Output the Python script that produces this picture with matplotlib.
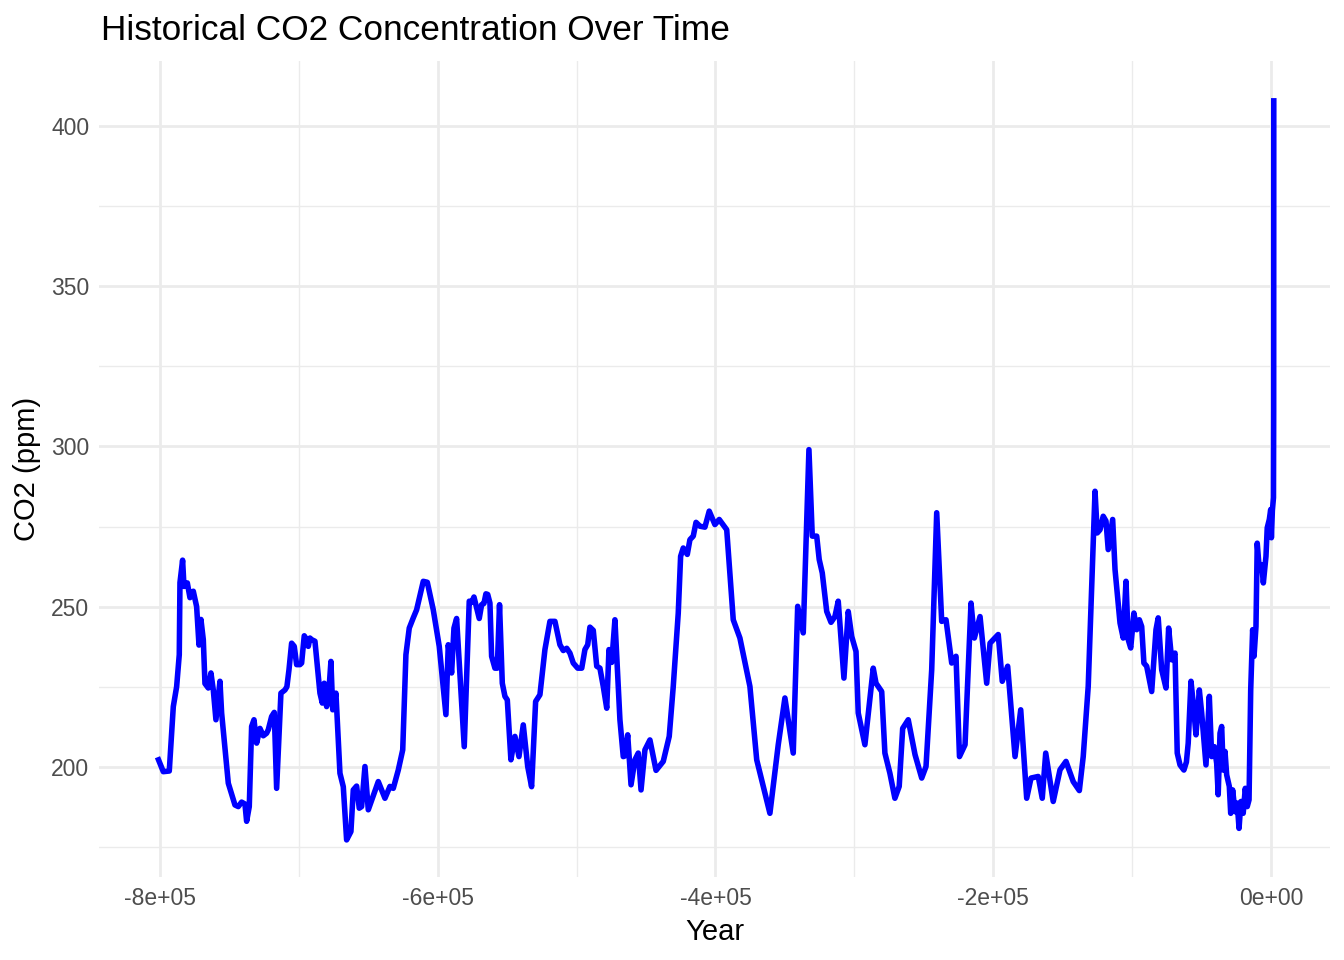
import matplotlib
matplotlib.use("Agg")
import matplotlib.pyplot as plt
from matplotlib.ticker import FixedLocator

plt.rcParams['font.family'] = ['Liberation Sans', 'DejaVu Sans']

# ---- data ----
years = [
    -801800, -797600, -793300, -790400, -788000, -786100, -785600, -783700, -782700, -780300,
    -778400, -776000, -773600, -771900, -770500, -768800, -767600, -765200, -763300, -761600,
    -759700, -756800, -755600, -750800, -746000, -743600, -741200, -738800, -737600, -735700,
    -734000, -732300, -730400, -728000, -725600, -723200, -722000, -719600, -717700, -716000,
    -712900, -710000, -708600, -707100, -705200, -703300, -701600, -699200, -698000, -696100,
    -694400, -693200, -692000, -690800, -688400, -684800, -683100, -681700, -680000, -678800,
    -676900, -675600, -673300, -670400, -668000, -665600, -662500, -660800, -658400, -656500,
    -654800, -652400, -650000, -642800, -638000, -634400, -632000, -628400, -625200, -622900,
    -620500, -617600, -615200, -610400, -607500, -603200, -598900, -594100, -592400, -590000,
    -588300, -586400, -580900, -577300, -575600, -573900, -570100, -568400, -566700, -565300,
    -564000, -562400, -561200, -558800, -557100, -555500, -553500, -551600, -549900, -547300,
    -544400, -541500, -538400, -535200, -532400, -529500, -526400, -522800, -519200, -515600,
    -512000, -509600, -507100, -504800, -502400, -499200, -496300, -494000, -492000, -490400,
    -488000, -485500, -483200, -480800, -478300, -476700, -474700, -472400, -468800, -466400,
    -465200, -463200, -460800, -458000, -455600, -453600, -450800, -447200, -442800, -437600,
    -433300, -430400, -426800, -425100, -423200, -420300, -418400, -416000, -414000, -411200,
    -407600, -404500, -400400, -397300, -391900, -387200, -382400, -375200, -370300, -360800,
    -354800, -350000, -344000, -340800, -336800, -332700, -330300, -327100, -325300, -323100,
    -319900, -316800, -314000, -311600, -307500, -304400, -301900, -298800, -297200, -292400,
    -286400, -284400, -280300, -278000, -274400, -270800, -267700, -265200, -261200, -256300,
    -251500, -248400, -244300, -240700, -237100, -234000, -229900, -226800, -224300, -220300,
    -216000, -213600, -209500, -204700, -202300, -196400, -193500, -189600, -184300, -180200,
    -175900, -172800, -167600, -164700, -162200, -156800, -151900, -147600, -142400, -138000,
    -135200, -131600, -126700, -125100, -123100, -120800, -118800, -117200, -114000, -112300,
    -108700, -106400, -104400, -102800, -101000, -98700, -96700, -94800, -93100, -91500,
    -89500, -85900, -82800, -81200, -78700, -75600, -73700, -71500, -69100, -67500,
    -65500, -62700, -60900, -59600, -57600, -56000, -54000, -51600, -49900, -46800,
    -44400, -42700, -40800, -39100, -38000, -36700, -35500, -34400, -33100, -31900,
    -30000, -29000, -27600, -25900, -24300, -23000, -21600, -20000, -18500, -17100,
    -15800, -14600, -13200, -12200, -10800, -9900, -8400, -6700, -5500, -3600,
    -2700, -1200, -200, 300, 1000, 1800, 1900, 1950, 1980, 2000, 2018,
]

co2_ppm = [
    203.0, 198.5, 198.7, 218.8, 225.0, 235.0, 257.5, 264.5, 256.3, 257.4,
    252.8, 254.8, 250.0, 238.0, 246.0, 239.7, 226.0, 224.6, 229.3, 224.0,
    214.7, 226.7, 216.8, 194.9, 188.1, 187.6, 189.0, 188.4, 183.0, 187.6,
    212.6, 214.7, 207.4, 212.0, 209.7, 210.5, 211.6, 215.7, 217.0, 193.3,
    223.0, 224.0, 225.0, 230.3, 238.6, 237.6, 231.9, 231.9, 232.4, 240.9,
    239.7, 237.6, 240.2, 239.7, 239.2, 223.0, 219.9, 226.1, 218.8, 220.9,
    232.9, 217.8, 223.0, 198.0, 193.8, 177.2, 179.8, 192.8, 194.0, 187.1,
    187.6, 200.1, 186.6, 195.4, 190.2, 193.9, 193.3, 199.0, 205.3, 235.0,
    243.3, 246.5, 249.0, 257.9, 257.6, 249.0, 237.6, 216.3, 238.1, 229.3,
    243.3, 246.3, 206.3, 251.7, 251.3, 253.0, 246.3, 250.6, 251.0, 254.0,
    253.8, 251.1, 234.5, 230.8, 230.8, 250.6, 226.1, 222.0, 220.9, 202.2,
    209.5, 203.2, 213.1, 200.1, 193.8, 220.4, 222.5, 236.6, 245.4, 245.4,
    238.1, 236.3, 237.0, 235.5, 232.4, 230.8, 230.8, 236.6, 238.1, 243.6,
    242.6, 231.4, 230.8, 225.1, 218.3, 236.6, 232.6, 245.9, 214.7, 203.2,
    203.4, 210.0, 194.4, 202.2, 204.3, 192.8, 205.3, 208.4, 198.9, 201.7,
    209.5, 225.1, 248.0, 265.7, 268.3, 266.3, 270.9, 272.0, 276.3, 275.1,
    274.8, 279.8, 275.6, 277.2, 274.0, 245.9, 240.2, 225.1, 202.2, 185.5,
    206.9, 221.5, 204.3, 250.1, 241.8, 299.0, 272.0, 272.0, 264.7, 260.5,
    248.5, 245.1, 246.9, 251.7, 227.7, 248.5, 240.7, 236.0, 216.8, 206.9,
    230.8, 226.1, 223.5, 204.3, 198.0, 190.2, 193.9, 212.0, 214.7, 203.8,
    196.5, 200.1, 230.3, 279.3, 245.4, 245.9, 232.4, 234.5, 203.2, 206.9,
    251.1, 240.2, 246.9, 226.1, 238.6, 241.3, 226.7, 231.4, 203.2, 217.8,
    190.2, 196.5, 197.0, 190.2, 204.3, 189.2, 199.1, 201.7, 195.4, 192.6,
    203.2, 225.1, 286.0, 273.0, 274.0, 278.2, 276.7, 267.8, 277.2, 261.6,
    244.9, 240.2, 257.9, 239.7, 237.1, 248.0, 242.8, 245.9, 243.8, 232.4,
    231.4, 223.5, 242.8, 246.5, 230.3, 224.6, 243.3, 233.4, 235.5, 204.3,
    200.6, 199.0, 201.5, 207.4, 226.7, 219.9, 210.0, 224.0, 216.8, 200.6,
    222.0, 203.2, 206.3, 201.1, 191.3, 210.5, 212.6, 199.0, 204.8, 197.5,
    193.9, 185.5, 192.8, 186.0, 188.7, 180.8, 189.2, 185.5, 193.3, 187.6,
    189.7, 224.0, 242.8, 234.5, 243.8, 269.8, 261.6, 263.1, 257.4, 265.7,
    274.6, 277.2, 280.3, 271.5, 280.0, 284.0, 296.0, 311.0, 339.0, 369.0, 408.7,
]

x_major = [-800000, -600000, -400000, -200000, 0]
x_tick_labels = ["-8e+05", "-6e+05", "-4e+05", "-2e+05", "0e+00"]
x_minor = [-700000, -500000, -300000, -100000]
y_major = [200, 250, 300, 350, 400]
y_tick_labels = ["200", "250", "300", "350", "400"]
y_minor = [175, 225, 275, 325, 375]
x_limits = (-843900, 42500)

title = "Historical CO2 Concentration Over Time"
xlabel = "Year"
ylabel = "CO2 (ppm)"

# ---- figure ----
W, H = 1344, 960
fig = plt.figure(figsize=(W / 100, H / 100), dpi=100)
ax = fig.add_axes([99 / W, 1 - 877 / H, 1231 / W, 816 / H])

ax.plot(years, co2_ppm, color="#0000FF", linewidth=4.0,
        solid_capstyle="butt", solid_joinstyle="round", zorder=3)
ax.margins(y=0.05)
ax.set_xlim(*x_limits)

for s in ax.spines.values():
    s.set_visible(False)

ax.xaxis.set_major_locator(FixedLocator(x_major))
ax.set_xticklabels(x_tick_labels)
ax.xaxis.set_minor_locator(FixedLocator(x_minor))
ax.yaxis.set_major_locator(FixedLocator(y_major))
ax.set_yticklabels(y_tick_labels)
ax.yaxis.set_minor_locator(FixedLocator(y_minor))

ax.tick_params(which="both", length=0)
ax.tick_params(axis="both", which="major", labelsize=16.5, labelcolor="#4D4D4D", pad=7)
ax.grid(which="major", color="#EBEBEB", linewidth=2.0, zorder=0)
ax.grid(which="minor", color="#EBEBEB", linewidth=1.0, zorder=0)
ax.set_axisbelow(True)

ax.set_xlabel(xlabel, fontsize=21, color="black", labelpad=6)
ax.set_ylabel(ylabel, fontsize=21, color="black", labelpad=7)

fig.text(101 / W, 1 - 30 / H, title, fontsize=25.4, color="black",
         ha="left", va="center")

fig.savefig("out.png", dpi=100, facecolor="white")
